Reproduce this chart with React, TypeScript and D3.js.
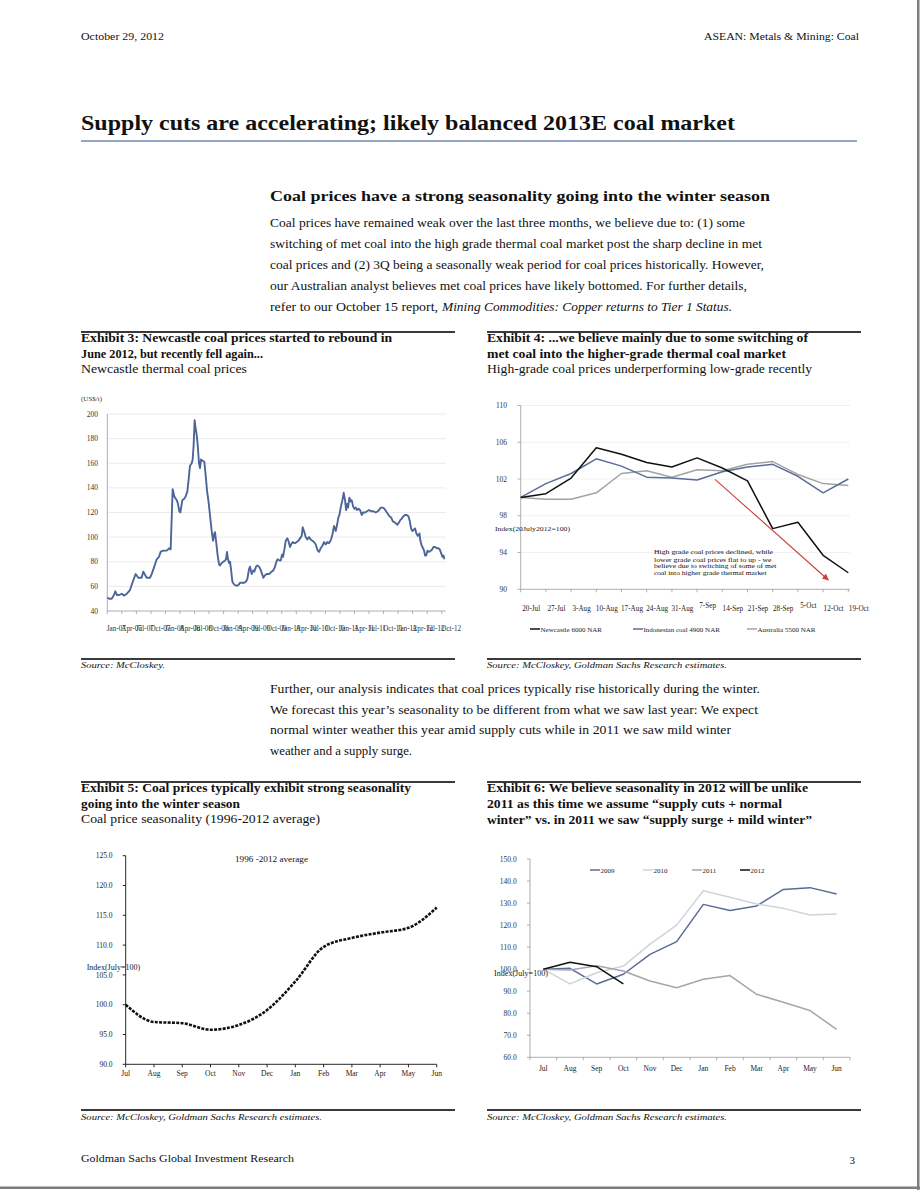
import React from 'react';
import * as d3 from 'd3';

const SERIF = '"Liberation Serif", "Times New Roman", Times, serif';

// ---------- Exhibit 3: Newcastle thermal coal prices (US$/t) ----------
// time in years since Jan-2007
const ex3Years = [0,0.034,0.075,0.115,0.138,0.166,0.206,0.247,0.292,0.333,0.39,0.447,0.487,0.533,0.591,0.619,0.677,0.734,0.763,0.808,0.849,0.889,0.917,0.963,1.021,1.067,1.089,1.124,1.153,1.193,1.21,1.239,1.256,1.29,1.319,1.347,1.376,1.399,1.422,1.451,1.468,1.485,1.502,1.514,1.537,1.554,1.577,1.594,1.611,1.64,1.669,1.692,1.714,1.743,1.772,1.795,1.818,1.841,1.852,1.875,1.898,1.921,1.938,1.967,1.995,2.024,2.041,2.058,2.076,2.093,2.11,2.127,2.15,2.173,2.196,2.231,2.253,2.282,2.322,2.357,2.385,2.408,2.437,2.454,2.483,2.511,2.529,2.557,2.58,2.609,2.632,2.655,2.683,2.712,2.741,2.781,2.827,2.856,2.884,2.907,2.93,2.964,2.982,3.005,3.022,3.045,3.068,3.096,3.114,3.142,3.171,3.188,3.228,3.257,3.286,3.314,3.343,3.36,3.389,3.412,3.44,3.469,3.498,3.526,3.555,3.584,3.618,3.641,3.67,3.698,3.727,3.756,3.784,3.813,3.847,3.87,3.899,3.928,3.951,3.974,3.991,4.014,4.042,4.065,4.088,4.106,4.123,4.14,4.163,4.186,4.203,4.226,4.249,4.272,4.295,4.318,4.346,4.375,4.398,4.433,4.467,4.501,4.536,4.576,4.616,4.65,4.673,4.702,4.736,4.765,4.794,4.822,4.851,4.88,4.908,4.937,4.966,4.989,5.017,5.04,5.063,5.092,5.12,5.149,5.178,5.201,5.224,5.247,5.27,5.292,5.315,5.338,5.356,5.367,5.384,5.407,5.43,5.447,5.464,5.482,5.505,5.533,5.562,5.585,5.608,5.636,5.665,5.694,5.717,5.74,5.763,5.78,5.797];
const ex3Price = [51,50,50,53,56,53,53,54,52.5,54,57,65,70,67,67,72,67,67,70,76,82,84,88,89,89,91,90,139,133,130,128,121,120,130,131,133,137,147,158,160,163,175,195,190,183,175,160,156,163,162,161,150,138,128,115,105,97,103,104,95,85,78,77,79,80,81,82,88,82,79,80,74,64,62,61,60.5,61,63,63,63,64,66,74,76,70,73,72,76,77,76,74,71,67,69,70,70,72,73,76,80,82,81,81,86,84,90,97,99,97,92,95,96,95,96,97,99,101,108,104,100,98,100,98,97,96,94,89,88,91,93,96,94,96,95,98,102,109,105,110,116,118,124,130,136,130,122,127,124,132,129,130,125,123,124,122,123,122,118,120,120,121,122,121,121,120,121,122,124,124,123,121,119,117,116,113,112,111,110,112,114,115,117,118,118,117,113,107,105,106,107,103,101,102,103,97,93,91,89,85,85,89,88,89,90,92,92,91,91,90,87,84,85,82];
const ex3QuarterLabels = ['Jan-07','Apr-07','Jul-07','Oct-07','Jan-08','Apr-08','Jul-08','Oct-08','Jan-09','Apr-09','Jul-09','Oct-09','Jan-10','Apr-10','Jul-10','Oct-10','Jan-11','Apr-11','Jul-11','Oct-11','Jan-12','Apr-12','Jul-12','Oct-12'];
const ex3YTicks = [40,60,80,100,120,140,160,180,200];

// ---------- Exhibit 4: index (20 July 2012 = 100) ----------
const ex4Dates = ['20-Jul','27-Jul','3-Aug','10-Aug','17-Aug','24-Aug','31-Aug','7-Sep','14-Sep','21-Sep','28-Sep','5-Oct','12-Oct','19-Oct'];
const ex4Newcastle = [100,100.4,102.1,105.4,104.7,103.8,103.3,104.3,103.2,101.8,96.6,97.3,93.7,91.8];
const ex4Indonesian = [100,101.5,102.6,104.2,103.4,102.2,102.1,101.9,102.8,103.3,103.6,102.3,100.5,102];
const ex4Australia = [100,99.8,99.8,100.5,102.6,102.9,102.2,103,102.9,103.6,103.9,102.5,101.5,101.3];
const ex4SeriesNames = ['Newcastle 6000 NAR','Indonesian coal 4900 NAR','Australia 5500 NAR'];
const ex4YTicks = [90,94,98,102,106,110];
const ex4Note = ['High grade coal prices declined, while','lower grade coal prices flat to up - we','believe due to switching of some of met','coal into higher grade thermal market'];

// ---------- Exhibit 5: seasonality 1996-2012 average (July = 100) ----------
const months = ['Jul','Aug','Sep','Oct','Nov','Dec','Jan','Feb','Mar','Apr','May','Jun'];
const ex5Average = [100,97.1,96.9,95.8,96.6,99.1,103.9,109.7,111.2,112.1,112.9,116.3];
const ex5YTicks = [90,95,100,105,110,115,120,125];

// ---------- Exhibit 6: seasonality by year (July = 100) ----------
const ex6Years = ['2009','2010','2011','2012'];
const ex6_2009 = [100,100.4,93.3,97.7,106.7,112.5,129.4,126.6,128.7,136.2,137,134.1];
const ex6_2010 = [100,93.3,98.4,101.4,111.4,120,135.6,132.6,129.6,127.6,124.6,125];
const ex6_2011 = [100,99.6,101.6,99.2,94.6,91.6,95.4,97.1,88.6,85,81.2,72.7];
const ex6_2012 = [100,103.1,101.1,93.3];
const ex6YTicks = [60,70,80,90,100,110,120,130,140,150];

type TP = {
  x: number; y: number; w?: number; size: number; bold?: boolean; italic?: boolean;
  anchor?: 'start' | 'middle' | 'end'; fill?: string; children: React.ReactNode;
};
const T = ({ x, y, w, size, bold, italic, anchor, fill, children }: TP) => (
  <text
    x={x}
    y={y}
    fontSize={size}
    fontFamily={SERIF}
    fontWeight={bold ? 'bold' : 'normal'}
    fontStyle={italic ? 'italic' : 'normal'}
    textAnchor={anchor || 'start'}
    fill={fill || '#111'}
    {...(w ? { textLength: w, lengthAdjust: 'spacingAndGlyphs' } : {})}
  >
    {children}
  </text>
);

function Exhibit3() {
  const x = d3.scaleLinear().domain([0, 5.75]).range([107.3, 441.7]);
  const y = d3.scaleLinear().domain([40, 200]).range([611, 414]);
  const path = d3
    .line<number>()
    .x((_, i) => x(ex3Years[i]))
    .y((d) => y(d))(ex3Price) as string;
  return (
    <g>
      <T x={81} y={401} size={7} fill="#333">(US$/t)</T>
      {ex3YTicks.map((v) => (
        <g key={v}>
          {v > 40 && <line x1={107.3} x2={445.7} y1={y(v)} y2={y(v)} stroke="#e6e6e6" strokeWidth={0.8} />}
          <T x={98} y={y(v) + 2.6} size={7.5} anchor="end" fill="#333">{v}</T>
        </g>
      ))}
      <line x1={107.3} x2={107.3} y1={y(200)} y2={y(40)} stroke="#9a9a9a" strokeWidth={0.8} />
      <line x1={107.3} x2={445.7} y1={y(40)} y2={y(40)} stroke="#9a9a9a" strokeWidth={0.8} />
      {ex3QuarterLabels.map((lab, i) => (
        <g key={lab}>
          <line x1={x(i / 4)} x2={x(i / 4)} y1={y(40)} y2={y(40) + 3} stroke="#9a9a9a" strokeWidth={0.8} />
          <T x={x(i / 4) - 0.5} y={631} size={7.2} fill="#333">{lab}</T>
        </g>
      ))}
      <path d={path} fill="none" stroke="#4d6699" strokeWidth={1.9} strokeLinejoin="round" />
    </g>
  );
}

function Exhibit4() {
  const x = d3.scalePoint<string>().domain(ex4Dates).range([520.7, 848.3]);
  const y = d3.scaleLinear().domain([90, 110]).range([589.3, 405.5]);
  const gen = d3
    .line<number>()
    .x((_, i) => x(ex4Dates[i]) as number)
    .y((d) => y(d));
  const series = [
    { name: ex4SeriesNames[0], data: ex4Newcastle, color: '#111111' },
    { name: ex4SeriesNames[1], data: ex4Indonesian, color: '#5a6d99' },
    { name: ex4SeriesNames[2], data: ex4Australia, color: '#a3a3a3' },
  ];
  const legendX = [530, 633, 747];
  const raised = new Set(['7-Sep', '5-Oct']);
  return (
    <g>
      <defs>
        <marker id="redArrow" viewBox="0 0 10 10" refX="9" refY="5" markerWidth="6" markerHeight="6" orient="auto">
          <path d="M0,0 L10,5 L0,10 z" fill="#c9403a" />
        </marker>
      </defs>
      {ex4YTicks.map((v) => (
        <g key={v}>
          {v > 90 && <line x1={520.7} x2={850} y1={y(v)} y2={y(v)} stroke="#ececec" strokeWidth={0.8} />}
          <line x1={517.7} x2={520.7} y1={y(v)} y2={y(v)} stroke="#9a9a9a" strokeWidth={0.8} />
          <T x={507} y={y(v) + 2.6} size={7.5} anchor="end" fill="#333">{v}</T>
        </g>
      ))}
      <line x1={520.7} x2={520.7} y1={y(110)} y2={y(90)} stroke="#9a9a9a" strokeWidth={0.8} />
      <line x1={520.7} x2={850} y1={y(90)} y2={y(90)} stroke="#9a9a9a" strokeWidth={0.8} />
      {ex4Dates.map((d) => (
        <g key={d}>
          <line x1={x(d)} x2={x(d)} y1={y(90)} y2={y(90) + 3} stroke="#9a9a9a" strokeWidth={0.8} />
          <T x={(x(d) as number) + 10.5} y={raised.has(d) ? 607.5 : 611} size={7.2} anchor="middle" fill="#222">{d}</T>
        </g>
      ))}
      {series.slice().reverse().map((s) => (
        <path key={s.name} d={gen(s.data) as string} fill="none" stroke={s.color} strokeWidth={1.5} strokeLinejoin="round" />
      ))}
      <T x={495} y={530.5} size={7} w={75} fill="#222">Index(20July2012=100)</T>
      <line x1={715} y1={479.3} x2={828.3} y2={580} stroke="#c9403a" strokeWidth={1.1} markerEnd="url(#redArrow)" />
      {ex4Note.map((t, i) => (
        <T key={t} x={654} y={[553.5, 562, 567.8, 574.6][i]} size={6.6} w={[119, 117.5, 122.5, 112.5][i]} fill="#111">{t}</T>
      ))}
      {series.map((s, i) => (
        <g key={s.name}>
          <line x1={legendX[i]} x2={legendX[i] + 10} y1={629} y2={629} stroke={s.color} strokeWidth={1.5} />
          <T x={legendX[i] + 10.5} y={631.5} size={7} fill="#222">{s.name}</T>
        </g>
      ))}
    </g>
  );
}

function Exhibit5() {
  const x = d3.scalePoint<string>().domain(months).range([125.7, 436.7]);
  const y = d3.scaleLinear().domain([90, 125]).range([1064.3, 855.7]);
  const path = d3
    .line<number>()
    .x((_, i) => x(months[i]) as number)
    .y((d) => y(d))
    .curve(d3.curveMonotoneX)(ex5Average) as string;
  return (
    <g>
      {ex5YTicks.map((v) => (
        <g key={v}>
          <line x1={122.7} x2={125.7} y1={y(v)} y2={y(v)} stroke="#111" strokeWidth={0.9} />
          <T x={112.5} y={y(v) + 2.6} size={7.5} anchor="end" fill="#222">{v.toFixed(1)}</T>
        </g>
      ))}
      <line x1={125.7} x2={125.7} y1={y(125)} y2={y(90)} stroke="#111" strokeWidth={0.9} />
      <line x1={125.7} x2={436.7} y1={y(90)} y2={y(90)} stroke="#111" strokeWidth={0.9} />
      {months.map((m) => (
        <g key={m}>
          <line x1={x(m)} x2={x(m)} y1={y(90)} y2={y(90) + 3} stroke="#111" strokeWidth={0.9} />
          <T x={x(m) as number} y={1075.5} size={7.5} anchor="middle" fill="#222">{m}</T>
        </g>
      ))}
      <T x={235} y={861.5} size={8} w={73} fill="#111">1996 -2012 average</T>
      <T x={86.7} y={969.6} size={7.3} w={53.5} fill="#222">Index(July=100)</T>
      <path d={path} fill="none" stroke="#111" strokeWidth={2.6} strokeDasharray="3 1.3" />
    </g>
  );
}

function Exhibit6() {
  const x = d3.scaleBand<string>().domain(months).range([530, 850]);
  const cx = (m: string) => (x(m) as number) + x.bandwidth() / 2;
  const y = d3.scaleLinear().domain([60, 150]).range([1057.3, 859]);
  const gen = d3
    .line<number>()
    .x((_, i) => cx(months[i]))
    .y((d) => y(d));
  const series = [
    { name: ex6Years[0], data: ex6_2009, color: '#5a6b95' },
    { name: ex6Years[1], data: ex6_2010, color: '#cfd3dc' },
    { name: ex6Years[2], data: ex6_2011, color: '#a6a6a6' },
    { name: ex6Years[3], data: ex6_2012, color: '#111111' },
  ];
  const legendX = [590, 643, 692, 740];
  return (
    <g>
      {ex6YTicks.map((v) => (
        <g key={v}>
          <line x1={527} x2={530} y1={y(v)} y2={y(v)} stroke="#9a9a9a" strokeWidth={0.8} />
          <T x={516.7} y={y(v) + 2.6} size={7.5} anchor="end" fill="#333">{v.toFixed(1)}</T>
        </g>
      ))}
      <line x1={530} x2={530} y1={y(150)} y2={y(60)} stroke="#9a9a9a" strokeWidth={0.8} />
      <line x1={530} x2={850} y1={y(60)} y2={y(60)} stroke="#9a9a9a" strokeWidth={0.8} />
      {months.map((m) => (
        <g key={m}>
          <line x1={x(m)} x2={x(m)} y1={y(60)} y2={y(60) + 3} stroke="#9a9a9a" strokeWidth={0.8} />
          <T x={cx(m)} y={1070.5} size={7.5} anchor="middle" fill="#222">{m}</T>
        </g>
      ))}
      <line x1={850} x2={850} y1={y(60)} y2={y(60) + 3} stroke="#9a9a9a" strokeWidth={0.8} />
      {series.map((s) => (
        <path key={s.name} d={gen(s.data) as string} fill="none" stroke={s.color} strokeWidth={1.5} strokeLinejoin="round" />
      ))}
      <T x={494} y={975.6} size={7.3} w={54} fill="#222">Index(July=100)</T>
      {series.map((s, i) => (
        <g key={s.name}>
          <line x1={legendX[i]} x2={legendX[i] + 10} y1={870} y2={870} stroke={s.color} strokeWidth={1.5} />
          <T x={legendX[i] + 10.5} y={872.5} size={7} fill="#222">{s.name}</T>
        </g>
      ))}
    </g>
  );
}

export default function App() {
  const rule = (x1: number, x2: number, yy: number) => (
    <line x1={x1} x2={x2} y1={yy} y2={yy} stroke="#3a3a3a" strokeWidth={2} />
  );
  return (
    <svg
      width={920}
      height={1190}
      viewBox="0 0 920 1190"
      style={{ position: 'absolute', left: 0, top: 0, display: 'block', background: '#fff' }}
    >
      <rect x={0} y={0} width={920} height={1190} fill="#fff" />
      {/* header */}
      <T x={81} y={40} size={11} w={83}>October 29, 2012</T>
      <T x={704} y={40} size={11} w={155}>ASEAN: Metals &amp; Mining: Coal</T>
      <T x={81} y={130} size={21} bold w={654}>Supply cuts are accelerating; likely balanced 2013E coal market</T>
      <line x1={81} x2={857} y1={141} y2={141} stroke="#95a7c9" strokeWidth={2} />

      {/* intro */}
      <T x={270} y={201} size={15} bold w={500}>Coal prices have a strong seasonality going into the winter season</T>
      <T x={270} y={227} size={12.5} w={475}>Coal prices have remained weak over the last three months, we believe due to: (1) some</T>
      <T x={270} y={248} size={12.5} w={492}>switching of met coal into the high grade thermal coal market post the sharp decline in met</T>
      <T x={270} y={269} size={12.5} w={494}>coal prices and (2) 3Q being a seasonally weak period for coal prices historically. However,</T>
      <T x={270} y={290} size={12.5} w={477}>our Australian analyst believes met coal prices have likely bottomed. For further details,</T>
      <T x={270} y={311} size={12.5} w={168}>refer to our October 15 report,</T>
      <T x={442} y={311} size={12.5} italic w={290}>Mining Commodities: Copper returns to Tier 1 Status.</T>

      {/* exhibits 3 & 4 headers */}
      {rule(81, 455, 332)}
      {rule(487, 861, 332)}
      <T x={81} y={342} size={12.5} bold w={311}>Exhibit 3: Newcastle coal prices started to rebound in</T>
      <T x={81} y={358} size={12.5} bold w={182}>June 2012, but recently fell again...</T>
      <T x={81} y={373} size={12.5} w={166}>Newcastle thermal coal prices</T>
      <T x={487} y={342} size={12.5} bold w={321}>Exhibit 4: ...we believe mainly due to some switching of</T>
      <T x={487} y={358} size={12.5} bold w={299}>met coal into the higher-grade thermal coal market</T>
      <T x={487} y={373} size={12.5} w={325}>High-grade coal prices underperforming low-grade recently</T>

      <Exhibit3 />
      <Exhibit4 />

      {rule(81, 455, 659)}
      {rule(487, 861, 659)}
      <T x={81} y={668} size={8.5} italic w={84}>Source: McCloskey.</T>
      <T x={487} y={668} size={8.5} italic w={240}>Source: McCloskey, Goldman Sachs Research estimates.</T>

      {/* middle paragraph */}
      <T x={270} y={693} size={12.5} w={490}>Further, our analysis indicates that coal prices typically rise historically during the winter.</T>
      <T x={270} y={713.5} size={12.5} w={488}>We forecast this year’s seasonality to be different from what we saw last year: We expect</T>
      <T x={270} y={734} size={12.5} w={461}>normal winter weather this year amid supply cuts while in 2011 we saw mild winter</T>
      <T x={270} y={754.5} size={12.5} w={142}>weather and a supply surge.</T>

      {/* exhibits 5 & 6 headers */}
      {rule(81, 455, 782)}
      {rule(487, 861, 782)}
      <T x={81} y={792} size={12.5} bold w={330}>Exhibit 5: Coal prices typically exhibit strong seasonality</T>
      <T x={81} y={808} size={12.5} bold w={159}>going into the winter season</T>
      <T x={81} y={823} size={12.5} w={239}>Coal price seasonality (1996-2012 average)</T>
      <T x={487} y={792} size={12.5} bold w={321}>Exhibit 6: We believe seasonality in 2012 will be unlike</T>
      <T x={487} y={808} size={12.5} bold w={295}>2011 as this time we assume “supply cuts + normal</T>
      <T x={487} y={824} size={12.5} bold w={325}>winter” vs. in 2011 we saw “supply surge + mild winter”</T>

      <Exhibit5 />
      <Exhibit6 />

      {rule(81, 455, 1110)}
      {rule(487, 861, 1110)}
      <T x={81} y={1120} size={8.5} italic w={241}>Source: McCloskey, Goldman Sachs Research estimates.</T>
      <T x={487} y={1120} size={8.5} italic w={240}>Source: McCloskey, Goldman Sachs Research estimates.</T>

      {/* footer */}
      <T x={81} y={1162} size={11} w={213}>Goldman Sachs Global Investment Research</T>
      <T x={855} y={1164} size={11} anchor="end">3</T>

      {/* page border */}
      <rect x={917} y={0} width={2.5} height={1190} fill="#7d7d7d" />
      <rect x={0} y={1186.5} width={920} height={2.5} fill="#7d7d7d" />
    </svg>
  );
}
